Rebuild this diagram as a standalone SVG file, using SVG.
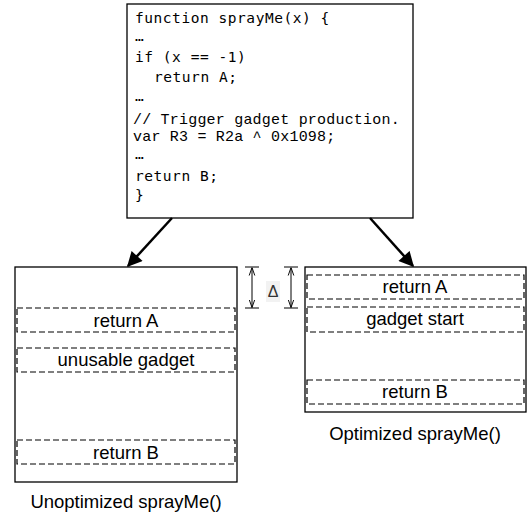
<svg xmlns="http://www.w3.org/2000/svg" width="529" height="515" viewBox="0 0 529 515">
<style>
.box{fill:#fff;stroke:#000;stroke-width:1.3}
.dash{fill:none;stroke:#000;stroke-width:1.2;stroke-dasharray:6 3}
.lbl{font-family:"Liberation Sans",Arial,sans-serif;font-size:18.5px;fill:#000;text-anchor:middle}
.code{font-family:"DejaVu Sans Mono",monospace;font-size:14.5px;letter-spacing:0.55px;fill:#000}
.cour{font-family:"Liberation Mono","Courier New",monospace;font-size:15px;letter-spacing:0.2px;fill:#000}
.conn{stroke:#000;stroke-width:2.5;fill:none}
.dim{stroke:#000;stroke-width:1;fill:none}
</style>
<defs>
<marker id="ah" viewBox="0 0 10 10" refX="9" refY="5" markerWidth="6.5" markerHeight="6" orient="auto" markerUnits="strokeWidth">
<path d="M0,0 L10,5 L0,10 z" fill="#000"/>
</marker>
<marker id="vh" viewBox="0 0 10 10" refX="10" refY="5" markerWidth="8" markerHeight="8" orient="auto-start-reverse" markerUnits="userSpaceOnUse">
<path d="M0,1.5 L10,5 L0,8.5" fill="none" stroke="#000" stroke-width="1.2"/>
</marker>
</defs>
<g id="code">
<rect class="box" x="127" y="4" width="286" height="214"/>
<text class="code" x="135" y="23">function sprayMe(x) {</text>
<text class="code" x="135" y="41">…</text>
<text class="code" x="135" y="62">if (x == -1)</text>
<text class="code" x="154" y="82">return A;</text>
<text class="code" x="135" y="101">…</text>
<text class="cour" x="133" y="124">// Trigger gadget production.</text>
<text class="cour" x="133" y="141">var R3 = R2a ^ 0x1098;</text>
<text class="code" x="135" y="159">…</text>
<text class="code" x="135" y="181">return B;</text>
<text class="code" x="135" y="200">}</text>
</g>
<g id="unopt">
<rect class="box" x="15" y="267" width="222" height="215"/>
<rect class="dash" x="17" y="308" width="218" height="24"/>
<text class="lbl" x="126" y="327">return A</text>
<rect class="dash" x="17" y="348" width="218" height="24"/>
<text class="lbl" x="126" y="366">unusable gadget</text>
<rect class="dash" x="17" y="440" width="218" height="24"/>
<text class="lbl" x="126" y="459">return B</text>
<text class="lbl" x="126" y="508">Unoptimized sprayMe()</text>
</g>
<g id="opt">
<rect class="box" x="305" y="267" width="221" height="145"/>
<rect class="dash" x="307" y="275" width="217" height="24"/>
<text class="lbl" x="415" y="293">return A</text>
<rect class="dash" x="307" y="307" width="217" height="25"/>
<text class="lbl" x="415" y="325">gadget start</text>
<rect class="dash" x="307" y="380" width="217" height="24"/>
<text class="lbl" x="415" y="398">return B</text>
<text class="lbl" x="415" y="440">Optimized sprayMe()</text>
</g>
<g id="delta">
<line class="dim" x1="245" y1="267" x2="259" y2="267"/>
<line class="dim" x1="245" y1="308" x2="259" y2="308"/>
<line class="dim" x1="252" y1="267.5" x2="252" y2="307.5" marker-start="url(#vh)" marker-end="url(#vh)"/>
<line class="dim" x1="284" y1="267" x2="298" y2="267"/>
<line class="dim" x1="284" y1="308" x2="298" y2="308"/>
<line class="dim" x1="291" y1="267.5" x2="291" y2="307.5" marker-start="url(#vh)" marker-end="url(#vh)"/>
<rect x="266" y="281" width="14" height="21" fill="#f2f2f2"/>
<text x="273" y="297" font-family="Liberation Sans,Arial,sans-serif" font-size="16" fill="#333" text-anchor="middle">Δ</text>
</g>
<g id="connectors">
<line class="conn" x1="172" y1="218" x2="128" y2="266" marker-end="url(#ah)"/>
<line class="conn" x1="370" y1="218" x2="413" y2="266" marker-end="url(#ah)"/>
</g>
</svg>
